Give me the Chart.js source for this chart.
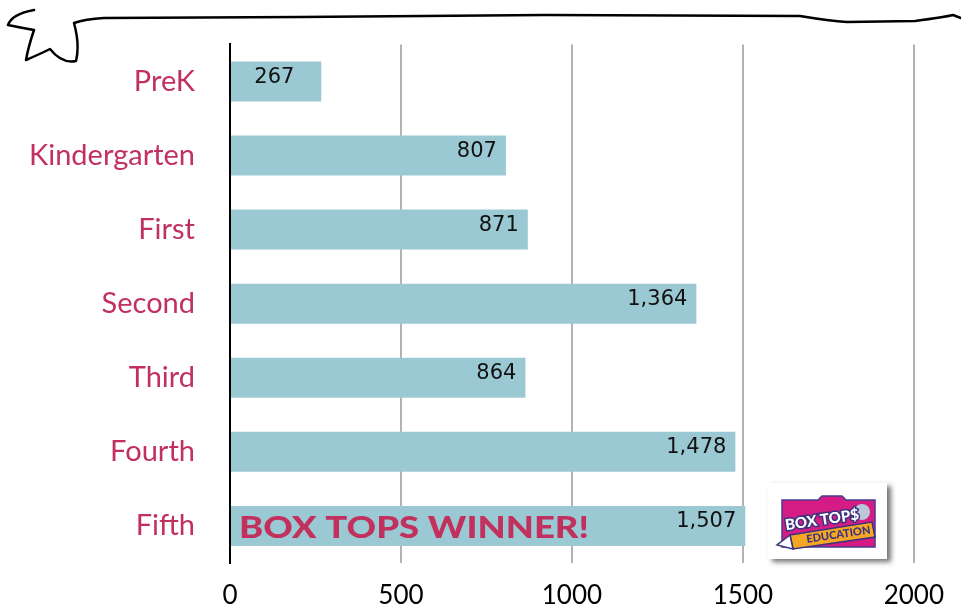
<!DOCTYPE html>
<html>
<head>
<meta charset="utf-8">
<script src="https://cdn.jsdelivr.net/npm/chart.js@4.4.1/dist/chart.umd.min.js"></script>
<style>
  html, body { margin: 0; padding: 0; background: #fff; overflow: hidden; }
  canvas { display: block; }
</style>
</head>
<body>
<canvas id="chart" width="961" height="614"></canvas>
<script>
const grades = ['PreK', 'Kindergarten', 'First', 'Second', 'Third', 'Fourth', 'Fifth'];
const boxTops = [267, 807, 871, 1364, 864, 1478, 1507];
const xTicks = [0, 500, 1000, 1500, 2000];

const pink = '#c2305e';
const barBlue = '#9bc9d3';

// value labels near the end of each bar
const valueLabels = {
    id: 'valueLabels',
    afterDatasetsDraw(chart) {
        const { ctx } = chart;
        const meta = chart.getDatasetMeta(0);
        ctx.save();
        ctx.font = '21px "DejaVu Sans"';
        ctx.fillStyle = '#111';
        ctx.textBaseline = 'middle';
        meta.data.forEach((bar, i) => {
            const txt = boxTops[i].toLocaleString('en-US');
            const w = bar.x - bar.base;
            if (w < 120) {
                ctx.textAlign = 'center';
                ctx.fillText(txt, bar.base + w * 0.48, bar.y - 4);
            } else {
                ctx.textAlign = 'right';
                ctx.fillText(txt, bar.x - 9, bar.y - 4);
            }
        });
        ctx.restore();
    }
};

// "winner" banner, hand drawn top rule and the logo
const decorations = {
    id: 'decorations',
    afterDraw(chart) {
        const { ctx } = chart;
        const x = chart.scales.x;
        const y = chart.scales.y;

        // winner text in the Fifth bar
        ctx.save();
        ctx.font = '900 30px Lato';
        const label = 'BOX TOPS WINNER!';
        const tw = ctx.measureText(label).width;
        const left = x.getPixelForValue(0) + 9;
        const cy = y.getPixelForValue(grades.length - 1) + 2;
        ctx.translate(left, cy);
        ctx.scale(350 / tw, 1);
        ctx.fillStyle = pink;
        ctx.textBaseline = 'middle';
        ctx.textAlign = 'left';
        ctx.fillText(label, 0, 0);
        ctx.restore();

        // hand drawn rule along the top
        ctx.save();
        ctx.strokeStyle = '#000';
        ctx.lineWidth = 2.5;
        ctx.lineCap = 'round';
        ctx.lineJoin = 'round';
        ctx.beginPath();
        ctx.moveTo(34, 10);
        ctx.quadraticCurveTo(12, 14, 8, 25);
        ctx.quadraticCurveTo(22, 28, 34, 30);
        ctx.quadraticCurveTo(28, 48, 26, 60);
        ctx.quadraticCurveTo(40, 54, 50, 49);
        ctx.quadraticCurveTo(62, 64, 76, 61);
        ctx.quadraticCurveTo(80, 45, 74, 23);
        ctx.quadraticCurveTo(85, 19, 104, 18);
        ctx.lineTo(300, 17);
        ctx.lineTo(545, 15);
        ctx.lineTo(800, 16);
        ctx.quadraticCurveTo(830, 21, 847, 22);
        ctx.lineTo(915, 21);
        ctx.quadraticCurveTo(945, 17, 953, 15);
        ctx.lineTo(961, 18);
        ctx.stroke();
        ctx.restore();

        // logo card
        ctx.save();
        ctx.shadowColor = 'rgba(0,0,0,0.55)';
        ctx.shadowBlur = 5;
        ctx.shadowOffsetX = 4;
        ctx.shadowOffsetY = 3;
        ctx.fillStyle = '#fff';
        ctx.fillRect(768, 483, 119, 76);
        ctx.restore();

        ctx.save();
        // magenta tab shape
        ctx.fillStyle = '#d41c84';
        ctx.strokeStyle = '#4a3b8f';
        ctx.lineWidth = 1.5;
        ctx.beginPath();
        ctx.moveTo(782, 500);
        ctx.lineTo(818, 500);
        ctx.lineTo(822, 496);
        ctx.lineTo(842, 496);
        ctx.lineTo(846, 500);
        ctx.lineTo(875, 500);
        ctx.lineTo(875, 547);
        ctx.lineTo(782, 547);
        ctx.closePath();
        ctx.fill();
        ctx.stroke();

        // circle behind the $
        ctx.fillStyle = '#b9c7d8';
        ctx.beginPath();
        ctx.arc(862, 512, 8, 0, Math.PI * 2);
        ctx.fill();

        // pencil
        ctx.fillStyle = '#f5a623';
        ctx.beginPath();
        ctx.moveTo(790, 535);
        ctx.lineTo(872, 522);
        ctx.lineTo(875, 537);
        ctx.lineTo(793, 549);
        ctx.closePath();
        ctx.fill();
        ctx.strokeStyle = '#3b3280';
        ctx.stroke();
        ctx.fillStyle = '#fff';
        ctx.beginPath();
        ctx.moveTo(790, 535);
        ctx.lineTo(777, 545);
        ctx.lineTo(793, 549);
        ctx.closePath();
        ctx.fill();
        ctx.stroke();

        // words
        ctx.translate(822, 520);
        ctx.rotate(-0.15);
        ctx.font = '900 15px Lato';
        ctx.textAlign = 'center';
        ctx.textBaseline = 'middle';
        ctx.lineWidth = 3;
        ctx.strokeStyle = '#3b3280';
        ctx.strokeText('BOX TOP$', 0, 0);
        ctx.fillStyle = '#fff';
        ctx.fillText('BOX TOP$', 0, 0);
        ctx.font = '900 11px Lato';
        ctx.fillStyle = '#3b3280';
        ctx.fillText('EDUCATION', 14, 17);
        ctx.restore();
    }
};

new Chart(document.getElementById('chart'), {
    type: 'bar',
    data: {
        labels: grades,
        datasets: [{
            data: boxTops,
            backgroundColor: barBlue,
            borderWidth: 0,
            barPercentage: 0.6,
            categoryPercentage: 0.9
        }]
    },
    options: {
        indexAxis: 'y',
        responsive: false,
        animation: false,
        layout: { padding: { top: 36, right: 45, left: 0, bottom: 0 } },
        plugins: {
            legend: { display: false },
            tooltip: { enabled: false }
        },
        scales: {
            x: {
                min: 0,
                max: 2000,
                afterBuildTicks: (scale) => { scale.ticks = xTicks.map(v => ({ value: v })); },
                afterFit: (scale) => { scale.height = 51; },
                border: { display: false },
                grid: { color: '#b3b3b3', lineWidth: 2, drawTicks: false },
                ticks: {
                    padding: 17,
                    color: '#000',
                    callback: (v) => String(v),
                    font: { family: 'Lato', size: 26 }
                }
            },
            y: {
                afterFit: (scale) => { scale.width = 230; },
                border: { color: '#000', width: 2 },
                grid: { display: false },
                ticks: {
                    padding: 27,
                    color: pink,
                    font: { family: 'Lato', size: 29 }
                }
            }
        }
    },
    plugins: [valueLabels, decorations]
});
</script>
</body>
</html>
